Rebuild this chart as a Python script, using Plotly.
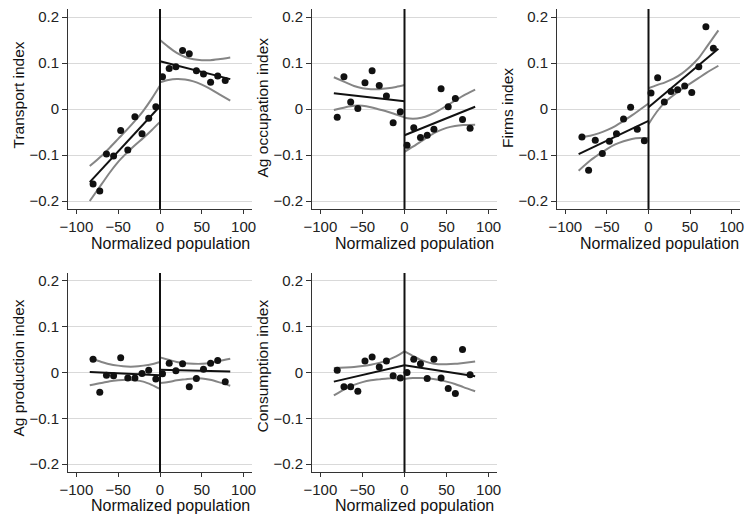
import plotly.graph_objects as go

# ---- data ----
bins_left = [-80, -72, -64, -55.5, -47, -38.5, -30, -21.5, -13.5, -5]
bins_right = [3, 11, 19, 27, 35, 43.5, 52, 60.5, 69, 78]

titles = ["Transport index", "Ag occupation index", "Firms index",
          "Ag production index", "Consumption index"]
x_title = "Normalized population"

pts_left = [
    [-0.163, -0.178, -0.098, -0.102, -0.047, -0.089, -0.017, -0.054, -0.020, 0.005],
    [-0.018, 0.070, 0.015, 0.001, 0.057, 0.083, 0.051, 0.028, -0.030, -0.006],
    [-0.061, -0.133, -0.068, -0.097, -0.070, -0.054, -0.022, 0.004, -0.044, -0.069],
    [0.029, -0.043, -0.006, -0.007, 0.032, -0.012, -0.012, -0.002, 0.005, -0.014],
    [0.005, -0.031, -0.031, -0.041, 0.025, 0.034, 0.012, 0.025, -0.007, -0.012],
]
pts_right = [
    [0.070, 0.088, 0.092, 0.127, 0.120, 0.083, 0.076, 0.058, 0.072, 0.062],
    [-0.079, -0.041, -0.062, -0.057, -0.044, 0.044, 0.005, 0.023, -0.023, -0.042],
    [0.035, 0.068, 0.015, 0.038, 0.042, 0.050, 0.036, 0.092, 0.179, 0.132],
    [-0.003, 0.020, 0.004, 0.019, -0.031, -0.013, 0.007, 0.020, 0.026, -0.020],
    [0.000, 0.029, 0.019, -0.013, 0.029, -0.012, -0.035, -0.046, 0.050, -0.005],
]

fit_x_left = [-84, 0]
fit_x_right = [0, 84]
fit_left = [[-0.159, 0.006], [0.034, 0.017], [-0.098, -0.026], [0.001, -0.006], [-0.020, 0.016]]
fit_right = [[0.104, 0.065], [-0.057, 0.005], [0.004, 0.131], [0.006, 0.002], [0.016, -0.008]]

ci_x_left = [-84, -70, -60, -50, -40, -30, -20, -10, 0]
ci_x_right = [0, 10, 20, 30, 40, 50, 60, 70, 84]
ci_up_left = [
    [-0.124, -0.102, -0.084, -0.065, -0.046, -0.026, -0.004, 0.022, 0.051],
    [0.069, 0.058, 0.050, 0.045, 0.043, 0.043, 0.045, 0.048, 0.052],
    [-0.062, -0.058, -0.053, -0.046, -0.037, -0.026, -0.014, -0.001, 0.012],
    [0.031, 0.023, 0.018, 0.015, 0.013, 0.013, 0.015, 0.018, 0.023],
    [0.010, 0.011, 0.012, 0.014, 0.017, 0.021, 0.027, 0.035, 0.046],
]
ci_lo_left = [
    [-0.200, -0.164, -0.138, -0.115, -0.096, -0.079, -0.063, -0.046, -0.028],
    [-0.002, 0.004, 0.007, 0.007, 0.004, -0.001, -0.006, -0.012, -0.018],
    [-0.134, -0.112, -0.099, -0.087, -0.077, -0.070, -0.065, -0.063, -0.063],
    [-0.028, -0.023, -0.019, -0.017, -0.016, -0.017, -0.020, -0.027, -0.036],
    [-0.050, -0.035, -0.027, -0.021, -0.017, -0.015, -0.013, -0.013, -0.014],
]
ci_up_right = [
    [0.150, 0.135, 0.122, 0.113, 0.108, 0.106, 0.106, 0.108, 0.112],
    [-0.019, -0.021, -0.019, -0.013, -0.004, 0.007, 0.018, 0.029, 0.042],
    [0.045, 0.052, 0.058, 0.066, 0.077, 0.092, 0.110, 0.135, 0.171],
    [0.033, 0.028, 0.023, 0.020, 0.019, 0.019, 0.021, 0.025, 0.030],
    [0.046, 0.036, 0.027, 0.021, 0.018, 0.018, 0.019, 0.021, 0.024],
]
ci_lo_right = [
    [0.058, 0.063, 0.065, 0.064, 0.060, 0.053, 0.044, 0.033, 0.018],
    [-0.093, -0.082, -0.070, -0.058, -0.048, -0.041, -0.037, -0.035, -0.034],
    [-0.033, -0.006, 0.015, 0.030, 0.043, 0.055, 0.067, 0.079, 0.094],
    [-0.023, -0.021, -0.017, -0.015, -0.013, -0.013, -0.016, -0.021, -0.029],
    [-0.014, -0.012, -0.012, -0.013, -0.016, -0.020, -0.025, -0.032, -0.041],
]

x_ticks = [-100, -50, 0, 50, 100]
y_ticks = [-0.2, -0.1, 0, 0.1, 0.2]
y_ticktext = ["\u22120.2", "\u22120.1", "0", "0.1", "0.2"]

# ---- layout geometry (pixels) ----
W, H = 750, 514
x_dom_px = [(68, 252), (312, 497), (557, 740), (68, 252), (312, 497)]
y_dom_px = [(9, 209), (9, 209), (9, 209), (273, 472), (273, 472)]
xtitle_pos = [(170, 243), (414, 243), (659, 243), (170, 505), (414, 505)]
ytitle_pos = [(17.5, 95), (262, 107.5), (507, 108), (17.5, 368), (262, 366.5)]

FONT = "Liberation Sans, Arial, Helvetica, sans-serif"
fig = go.Figure()
layout = dict(
    width=W, height=H, margin=dict(l=0, r=0, t=0, b=0),
    plot_bgcolor="white", paper_bgcolor="white", showlegend=False,
    font=dict(family=FONT, color="#222", size=15),
)
shapes = []
annotations = []
for i in range(5):
    xa = "x" if i == 0 else f"x{i+1}"
    ya = "y" if i == 0 else f"y{i+1}"
    grey = "#858585"
    for cx, cy in [(ci_x_left, ci_up_left[i]), (ci_x_left, ci_lo_left[i]),
                   (ci_x_right, ci_up_right[i]), (ci_x_right, ci_lo_right[i])]:
        fig.add_trace(go.Scatter(x=cx, y=cy, mode="lines", xaxis=xa, yaxis=ya,
                                 line=dict(color=grey, width=2, shape="spline", smoothing=0.8)))
    fig.add_trace(go.Scatter(x=fit_x_left, y=fit_left[i], mode="lines", xaxis=xa, yaxis=ya,
                             line=dict(color="#111", width=2)))
    fig.add_trace(go.Scatter(x=fit_x_right, y=fit_right[i], mode="lines", xaxis=xa, yaxis=ya,
                             line=dict(color="#111", width=2)))
    fig.add_trace(go.Scatter(x=bins_left + bins_right, y=pts_left[i] + pts_right[i],
                             mode="markers", xaxis=xa, yaxis=ya,
                             marker=dict(color="#111", size=7)))
    x0, x1 = x_dom_px[i]
    yt, yb = y_dom_px[i]
    key = "" if i == 0 else str(i + 1)
    layout["xaxis" + key] = dict(
        domain=[x0 / W, x1 / W], range=[-110, 110], anchor=ya, automargin=False,
        tickvals=x_ticks, ticks="outside", ticklen=4, tickcolor="#333",
        showline=True, linecolor="#333", linewidth=1, showgrid=False, zeroline=False,
        tickfont=dict(size=15, color="#222"),
    )
    layout["yaxis" + key] = dict(
        domain=[1 - yb / H, 1 - yt / H], range=[-0.2174, 0.2174], anchor=xa, automargin=False,
        tickvals=y_ticks, ticktext=y_ticktext,
        ticks="outside", ticklen=5, tickcolor="#333",
        showline=True, linecolor="#333", linewidth=1,
        showgrid=True, gridcolor="#d9d9d9", gridwidth=1, zeroline=False,
        tickfont=dict(size=15, color="#222"),
    )
    shapes.append(dict(type="line", xref=xa, yref=f"{ya} domain", x0=0, x1=0, y0=0, y1=1,
                       line=dict(color="#111", width=2)))
    tx, ty = xtitle_pos[i]
    annotations.append(dict(text=x_title, xref="paper", yref="paper", x=tx / W, y=1 - ty / H,
                            xanchor="center", yanchor="middle", showarrow=False,
                            font=dict(size=16, color="#111")))
    sx, sy = ytitle_pos[i]
    annotations.append(dict(text=titles[i], xref="paper", yref="paper", x=sx / W, y=1 - sy / H,
                            xanchor="center", yanchor="middle", showarrow=False, textangle=-90,
                            font=dict(size=15.5, color="#111")))
layout["shapes"] = shapes
layout["annotations"] = annotations
fig.update_layout(**layout)
fig.write_html("out.html", config={"displayModeBar": False},
               post_script="document.body.style.margin='0px';")
